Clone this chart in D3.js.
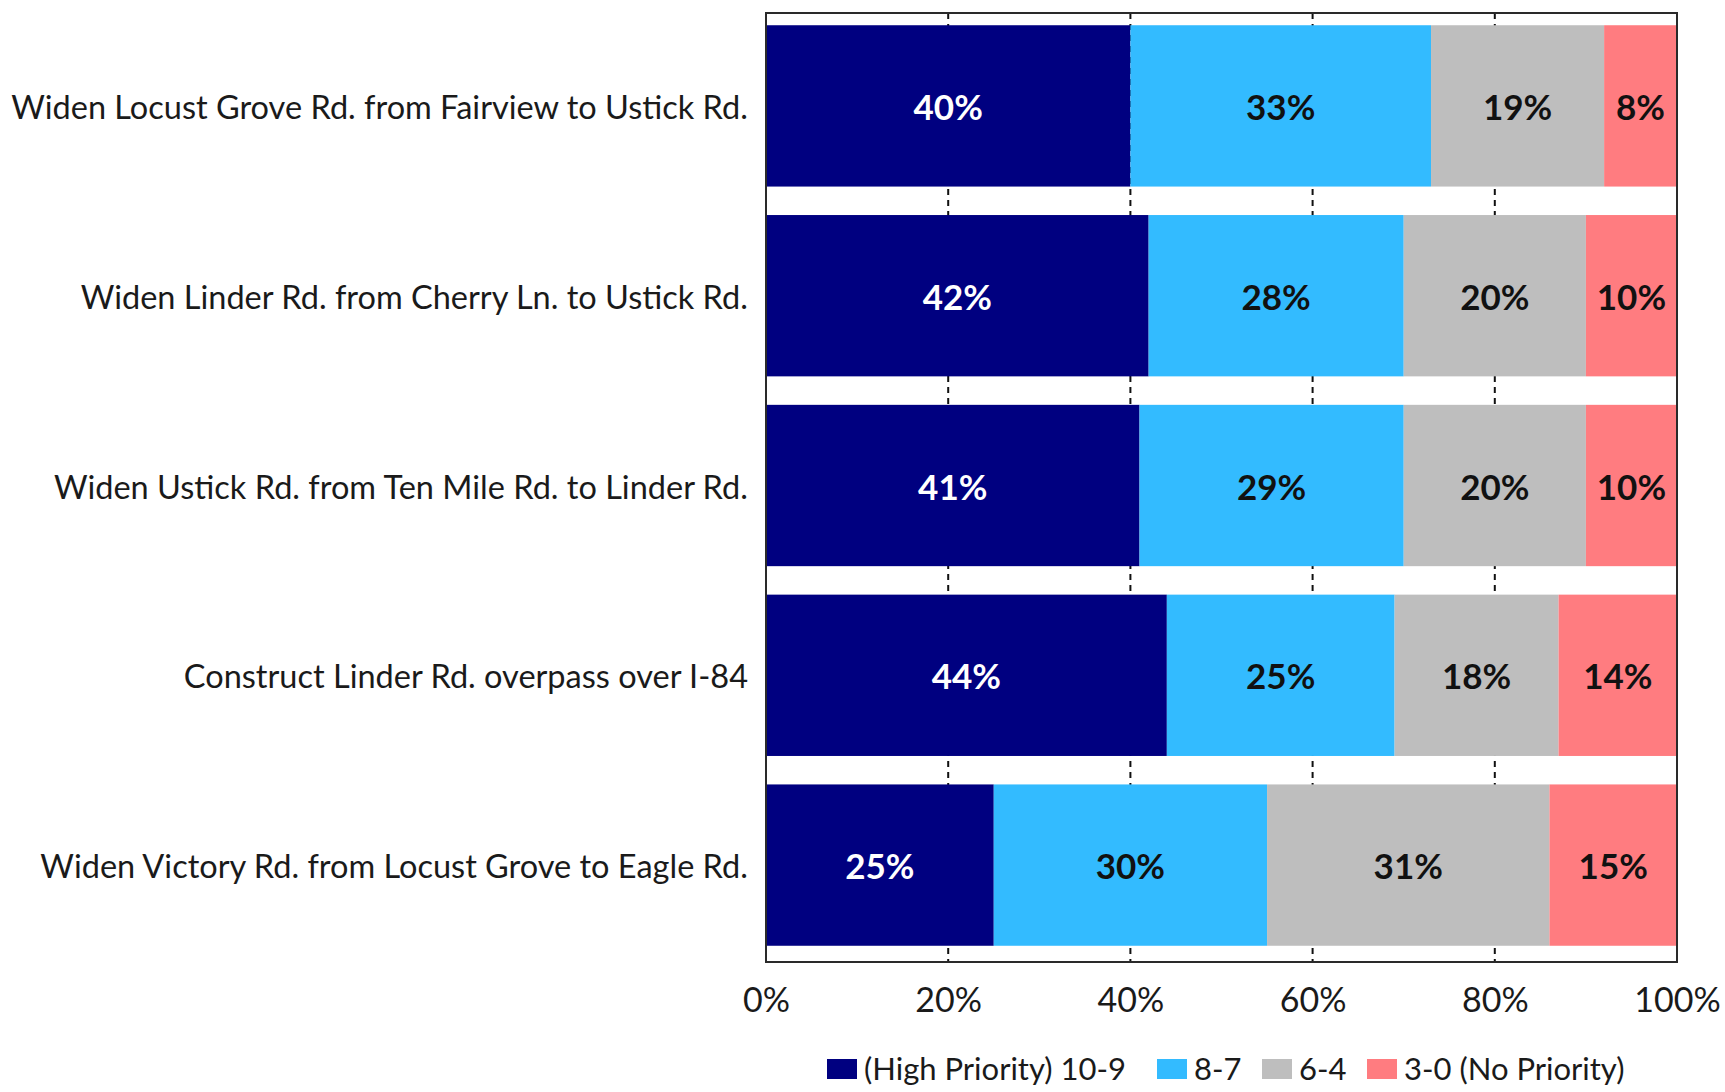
<!DOCTYPE html>
<html>
<head>
<meta charset="utf-8">
<script src="https://cdn.jsdelivr.net/npm/d3@7"></script>
<style>
  html, body { margin: 0; padding: 0; background: #fff; }
  svg { display: block; }
  text { font-family: Lato, "Open Sans", sans-serif; }
</style>
</head>
<body>
<svg id="chart" width="1725" height="1092"></svg>
<script>
// Survey responses: share of priority ratings for each road project (percent)
const categories = [
  "Widen Locust Grove Rd. from Fairview to Ustick Rd.",
  "Widen Linder Rd. from Cherry Ln. to Ustick Rd.",
  "Widen Ustick Rd. from Ten Mile Rd. to Linder Rd.",
  "Construct Linder Rd. overpass over I-84",
  "Widen Victory Rd. from Locust Grove to Eagle Rd."
];
const seriesNames = ["(High Priority) 10-9", "8-7", "6-4", "3-0 (No Priority)"];
const highPriority = [40, 42, 41, 44, 25];
const rating87 = [33, 28, 29, 25, 30];
const rating64 = [19, 20, 20, 18, 31];
const noPriority = [8, 10, 10, 14, 15];
const tickValues = [0, 20, 40, 60, 80, 100];

const colors = ["#000080", "#33bbff", "#bebebe", "#ff7c80"];
const labelColors = ["#ffffff", "#111111", "#111111", "#111111"];

const rows = categories.map((c, i) => ({
  category: c,
  [seriesNames[0]]: highPriority[i],
  [seriesNames[1]]: rating87[i],
  [seriesNames[2]]: rating64[i],
  [seriesNames[3]]: noPriority[i]
}));

const svg = d3.select("#chart");
const plot = { left: 766, right: 1677, top: 13, bottom: 962 };

const x = d3.scaleLinear().domain([0, 100]).range([plot.left, plot.right]).clamp(true);
const y = d3.scaleBand().domain(categories).range([plot.top - 2, plot.bottom - 2])
  .paddingInner(0.15).paddingOuter(0.075);

// dashed vertical gridlines, visible in the gaps between bars
svg.append("g")
  .selectAll("line")
  .data(tickValues.filter(t => t > 0 && t < 100))
  .join("line")
  .attr("x1", d => x(d)).attr("x2", d => x(d))
  .attr("y1", plot.top).attr("y2", plot.bottom)
  .attr("stroke", "#111")
  .attr("stroke-width", 2)
  .attr("stroke-dasharray", "6,5");

const stacked = d3.stack().keys(seriesNames)(rows);

const layers = svg.append("g")
  .selectAll("g")
  .data(stacked)
  .join("g")
  .attr("fill", (d, i) => colors[i]);

layers.selectAll("rect")
  .data(d => d)
  .join("rect")
  .attr("x", d => x(d[0]))
  .attr("width", d => x(d[1]) - x(d[0]))
  .attr("y", d => y(d.data.category))
  .attr("height", y.bandwidth());

// value labels centred in each segment
svg.append("g")
  .selectAll("g")
  .data(stacked)
  .join("g")
  .attr("fill", (d, i) => labelColors[i])
  .selectAll("text")
  .data(d => d.map(p => ({ p, key: d.key })))
  .join("text")
  .attr("x", d => (x(d.p[0]) + x(d.p[1])) / 2)
  .attr("y", d => y(d.p.data.category) + y.bandwidth() / 2)
  .attr("dy", "0.4em")
  .attr("text-anchor", "middle")
  .attr("font-size", 35)
  .attr("font-weight", 700)
  .text(d => d.p.data[d.key] + "%");

// plot frame
svg.append("rect")
  .attr("x", plot.left).attr("y", plot.top)
  .attr("width", plot.right - plot.left).attr("height", plot.bottom - plot.top)
  .attr("fill", "none").attr("stroke", "#2a2a2a").attr("stroke-width", 2);

// category axis labels
svg.append("g")
  .selectAll("text")
  .data(categories)
  .join("text")
  .attr("x", 748)
  .attr("y", d => y(d) + y.bandwidth() / 2)
  .attr("dy", "0.4em")
  .attr("text-anchor", "end")
  .attr("font-size", 32.5)
  .attr("fill", "#1a1a1a")
  .text(d => d);

// percentage axis
const xAxis = d3.axisBottom(x).tickValues(tickValues).tickFormat(d => d + "%").tickSize(0).tickPadding(26);
const axisG = svg.append("g").attr("transform", `translate(0,${plot.bottom})`).call(xAxis);
axisG.select(".domain").remove();
axisG.selectAll("text")
  .attr("font-size", 34)
  .attr("fill", "#1a1a1a")
  .attr("font-family", "Lato, sans-serif");

// legend
const legendItems = [
  { x: 827, i: 0 },
  { x: 1157, i: 1 },
  { x: 1262, i: 2 },
  { x: 1367, i: 3 }
];
const legend = svg.append("g").attr("transform", "translate(0,1069)");
const li = legend.selectAll("g").data(legendItems).join("g")
  .attr("transform", d => `translate(${d.x},0)`);
li.append("rect").attr("x", 0).attr("y", -10).attr("width", 30).attr("height", 20)
  .attr("fill", d => colors[d.i]);
li.append("text").attr("x", 37).attr("y", 0).attr("dy", "0.36em")
  .attr("font-size", 31).attr("fill", "#1a1a1a")
  .text(d => seriesNames[d.i]);
</script>
</body>
</html>
